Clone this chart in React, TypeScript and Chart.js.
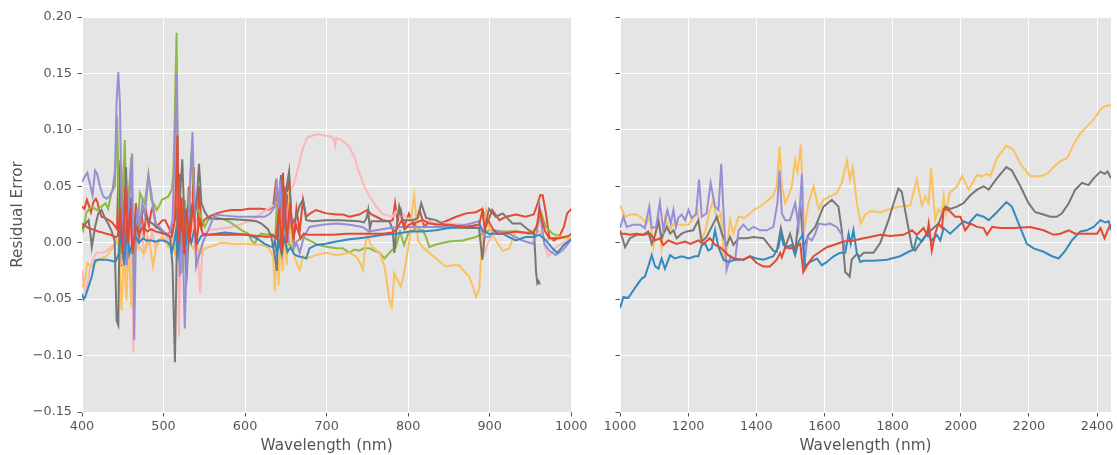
import React, { useEffect, useRef } from 'react';
import { Chart, registerables } from 'chart.js';

Chart.register(...registerables);

type Pt = [number, number];

// Tick positions
const visibleXTicks: number[] = [400, 500, 600, 700, 800, 900, 1000];
const nirXTicks: number[] = [1000, 1200, 1400, 1600, 1800, 2000, 2200, 2400];
const errorTicks: number[] = [-0.15, -0.1, -0.05, 0, 0.05, 0.1, 0.15, 0.2];

// ggplot colour cycle
const palette: string[] = ['#E24A33', '#348ABD', '#988ED5', '#777777', '#FBC15E', '#8EBA42', '#FFB5B8'];

// ---- Visible range (400–1000 nm) residuals: [wavelength, error] ----
const visRedLow: Pt[] = [
  [400, 0.017], [404, 0.015], [408, 0.013], [412, 0.012], [416, 0.011], [420, 0.01], [425, 0.009], [430, 0.008],
  [435, 0.007], [441, 0.005], [444, 0.006], [447, 0.03], [450, -0.01], [453, 0.05], [456, 0.0], [459, 0.03],
  [462, -0.01], [466, 0.015], [470, 0.008], [475, 0.014], [480, 0.01], [485, 0.012], [490, 0.01], [495, 0.009],
  [500, 0.008], [505, 0.007], [510, 0.005], [514, 0.02], [517, 0.095], [519, 0.0], [522, 0.04], [525, -0.01],
  [528, 0.03], [532, 0.0], [536, 0.035], [540, 0.0], [544, 0.02], [548, 0.008], [555, 0.007], [570, 0.007],
  [584, 0.007], [600, 0.007], [615, 0.006], [628, 0.005], [634, 0.007], [638, 0.004], [642, 0.03], [645, -0.01], [648, 0.05],
  [651, 0.0], [655, 0.035], [659, 0.005], [663, 0.015], [668, 0.004], [672, 0.008], [677, 0.007], [690, 0.007],
  [708, 0.007], [725, 0.008], [740, 0.008], [755, 0.008], [769, 0.008], [781, 0.009], [786, 0.012], [792, 0.02],
  [796, 0.012], [801, 0.016], [810, 0.018], [818, 0.02], [826, 0.017], [838, 0.016], [850, 0.016], [860, 0.015],
  [871, 0.014], [880, 0.015], [887, 0.016], [891, 0.028], [894, 0.012], [898, 0.02], [904, 0.012], [910, 0.008],
  [916, 0.008], [925, 0.009], [932, 0.01], [942, 0.009], [953, 0.008], [958, 0.015], [961, 0.03], [964, 0.02],
  [968, 0.01], [973, 0.004], [985, 0.004], [997, 0.006], [1000, 0.008],
];

const visBlue: Pt[] = [
  [400, -0.045], [402, -0.05], [404, -0.048], [408, -0.039], [412, -0.03], [416, -0.016], [419, -0.015], [424, -0.015],
  [430, -0.015], [436, -0.016], [441, -0.017], [445, -0.01], [448, 0.01], [452, -0.02], [455, 0.02],
  [458, -0.01], [462, 0.0], [466, 0.005], [470, 0.0], [475, 0.004], [479, 0.002], [485, 0.002], [490, 0.001],
  [494, 0.002], [500, 0.002], [504, 0.001], [508, -0.002], [510, -0.009], [513, 0.0], [515, 0.01], [518, -0.01], [522, 0.02],
  [526, -0.005], [530, 0.01], [534, 0.0], [538, 0.012], [542, 0.0], [546, 0.006], [550, 0.007], [555, 0.007],
  [565, 0.008], [575, 0.009], [590, 0.008], [604, 0.007], [614, 0.004], [624, -0.001], [630, -0.003], [634.5, -0.004],
  [636.5, 0.002], [639, -0.01], [642, 0.0], [645, -0.01], [648, 0.005], [652, -0.008], [656, -0.004], [660, -0.01],
  [665, -0.012], [671, -0.013], [675, -0.014], [679, -0.005], [687, -0.002], [699, -0.001], [712, 0.001], [728, 0.003],
  [740, 0.004], [752, 0.005], [769, 0.007], [785, 0.008], [802, 0.01], [818, 0.01], [834, 0.011], [850, 0.013],
  [871, 0.014], [887, 0.016], [891, 0.011], [899, 0.008], [916, 0.008], [924, 0.005], [932, 0.002], [944, 0.005],
  [953, 0.005], [961, 0.007], [969, 0.002], [977, -0.005], [983, -0.009], [991, -0.002], [1000, 0.003],
];

const visPurple: Pt[] = [
  [400, 0.054], [403, 0.058], [406.5, 0.062], [409.5, 0.053], [413, 0.042], [416, 0.064], [418.5, 0.061], [422, 0.05],
  [426, 0.041], [430, 0.039], [434, 0.041], [437.5, 0.047], [440.5, 0.064], [442.5, 0.126], [444.5, 0.151], [446.5, 0.124],
  [448.5, 0.032], [451, 0.0], [453, 0.05], [455, -0.02], [458, 0.04], [461.5, 0.079], [464, -0.086], [466, 0.0],
  [468, 0.03], [471, 0.015], [474, 0.035], [477, 0.025], [481.5, 0.058], [485, 0.045], [488, 0.025],
  [490, 0.017], [495, 0.014], [500, 0.01], [504, 0.006], [508, 0.01], [511, 0.02], [514, 0.09], [516, 0.15],
  [518, 0.05], [520, -0.03], [523, 0.02], [526, -0.076], [529, 0.0], [532, 0.04], [535.5, 0.098], [538, 0.03],
  [540, -0.021], [544, -0.01], [548, 0.0], [553, 0.008], [557, 0.015], [563, 0.025], [575, 0.024], [590, 0.023],
  [604, 0.023], [615, 0.023], [624, 0.023], [631, 0.026], [636.5, 0.032], [638.5, 0.057], [641, 0.03], [643, 0.055], [646, 0.01],
  [649, 0.04], [652, 0.0], [656, 0.03], [660, -0.005], [663, 0.0], [667, -0.009], [672, 0.005], [679, 0.014],
  [687, 0.015], [695, 0.016], [712, 0.017], [728, 0.016], [744, 0.014], [752, 0.01], [761, 0.011], [777, 0.013],
  [789, 0.014], [800, 0.014], [812, 0.014], [826, 0.014], [850, 0.014], [871, 0.016], [887, 0.019], [891, 0.01],
  [895, 0.005], [899, 0.005], [907, 0.011], [924, 0.008], [940, 0.002], [953, -0.001], [958, 0.01], [961, 0.033],
  [964, 0.015], [967, -0.001], [973, -0.007], [981, -0.011], [989, -0.007], [995, -0.002], [1000, 0.003],
];

const visGray: Pt[] = [
  [400, 0.013], [403.5, 0.016], [408, 0.02], [410, 0.01], [412, -0.004], [414, 0.005], [416, 0.014], [420, 0.026],
  [424, 0.029], [428, 0.022], [432, 0.017], [436, 0.011], [440, 0.002], [442.5, -0.069], [444.5, -0.073], [447, 0.067],
  [450.5, -0.015], [454, 0.067], [457, 0.002], [460, 0.04], [463, 0.0], [466, 0.025], [470, 0.005], [474, 0.03],
  [479, 0.023], [484, 0.018], [488, 0.016], [491, 0.014], [495, 0.012], [500, 0.009], [504, 0.008], [508, 0.005],
  [511, -0.02], [514, -0.106], [517, 0.03], [520, 0.04], [523, 0.074], [526, 0.01], [528, -0.036], [531, 0.01],
  [534, 0.032], [538, 0.02], [541, 0.04], [543.5, 0.07], [546.5, 0.035], [550, 0.028], [555, 0.022], [565, 0.021],
  [580, 0.021], [604, 0.02], [614, 0.019], [620, 0.017], [628, 0.012], [632, 0.006], [634.5, -0.004], [636.5, -0.012], [639, -0.025],
  [641, 0.02], [644, 0.06], [647, 0.01], [650, 0.045], [654, 0.063], [657, 0.015], [660, 0.02], [663, 0.023],
  [667, 0.033], [671, 0.038], [675, 0.02], [683, 0.019], [699, 0.02], [716, 0.02], [740, 0.019], [746, 0.018],
  [749, 0.022], [751, 0.029], [753, 0.012], [755, 0.019], [761, 0.019], [777, 0.019], [781, 0.012], [783, -0.009],
  [786, 0.015], [789, 0.032], [793, 0.02], [797, 0.02], [806, 0.02], [812, 0.022], [816, 0.035], [822, 0.022],
  [834, 0.02], [850, 0.014], [871, 0.013], [887, 0.013], [891, -0.015], [895, 0.015], [899, 0.03], [907.5, 0.023],
  [916, 0.026], [928, 0.017], [938, 0.017], [948, 0.011], [954.5, 0.008], [957, -0.027], [958.5, -0.036], [960, -0.034],
  [961.5, -0.037],
];

const visYellow: Pt[] = [
  [400, -0.04], [403.5, -0.033], [406.5, -0.018], [409, -0.02], [412, -0.021], [416, -0.018], [422, -0.014], [430, -0.012],
  [438, -0.004], [442.5, 0.002], [445, 0.0], [448.5, -0.06], [451, -0.01], [454.5, -0.051], [457, 0.0], [460.5, -0.057],
  [463, 0.0], [466, 0.01], [469, -0.005], [471, -0.004], [475, -0.009], [478, -0.007], [481, 0.004], [484, -0.005],
  [487, -0.021], [491.5, -0.001], [495, 0.003], [499.5, 0.005], [505.5, -0.004], [509.5, 0.001], [513.5, -0.009], [517, 0.01],
  [520, -0.02], [524, 0.0], [528, -0.01], [532, 0.0], [536, -0.005], [540, 0.0], [545, -0.01], [549, -0.006],
  [555, -0.004], [563, -0.002], [571, 0.0], [585, -0.001], [604, -0.001], [620, -0.002], [628.5, -0.004], [634.5, -0.012], [636.5, -0.043], [639, 0.0],
  [641, -0.038], [644, 0.005], [646, -0.025], [649, 0.01], [651, -0.02], [654.5, 0.047], [657, 0.0], [660, -0.01],
  [664, -0.02], [667, -0.024], [671, -0.012], [675, -0.014], [687, -0.011], [699.5, -0.009], [712, -0.011], [728, -0.009],
  [736, -0.012], [741, -0.018], [744.5, -0.024], [748, 0.0], [750.5, 0.008], [753, 0.0], [756.5, -0.004], [765, -0.009],
  [771, -0.021], [774, -0.035], [777, -0.051], [780, -0.057], [783, -0.027], [787, -0.033], [791, -0.039], [795, -0.027],
  [801.5, 0.002], [805, 0.03], [807.5, 0.042], [810, 0.02], [812, 0.002], [818, -0.004], [826, -0.009], [836, -0.015],
  [846, -0.021], [854.5, -0.02], [862.5, -0.02], [867, -0.024], [875, -0.03], [880, -0.04], [883, -0.048], [887, -0.042],
  [889, -0.02], [891, 0.002], [895.5, 0.029], [899, 0.014], [907.5, 0.002], [916, -0.007], [924, -0.005], [932, 0.011],
  [940, 0.008], [952.5, 0.011], [961, 0.01], [969, 0.002], [981, 0.005], [1000, 0.004],
];

const visGreen: Pt[] = [
  [400, 0.015], [401.5, 0.011], [405.5, 0.027], [412, 0.032], [418, 0.029], [424, 0.032], [429, 0.035], [432, 0.03],
  [436, 0.044], [440.5, 0.05], [443, 0.112], [445.5, 0.026], [448, -0.01], [450, 0.04], [452.5, 0.091], [455, 0.0],
  [458, 0.05], [460.5, 0.076], [463, -0.021], [466, 0.02], [468, 0.01], [471, 0.044], [473, 0.041], [477, 0.035],
  [481.5, 0.061], [485, 0.038], [488, 0.035], [491.5, 0.029], [495, 0.033], [498, 0.038], [506, 0.041], [510, 0.047],
  [512, 0.06], [514, 0.118], [516, 0.186], [518, 0.038], [520, 0.01], [522, -0.027], [526, 0.038], [530, 0.008],
  [534, 0.079], [538, 0.038], [541, 0.03], [544.5, 0.026], [550.5, 0.014], [554.5, 0.02], [563, 0.023], [572, 0.021],
  [579.5, 0.019], [588, 0.015], [596, 0.011], [604, 0.008], [608, 0.002], [612, -0.001], [616, 0.006], [620, 0.008],
  [626, 0.007], [631, 0.008], [634, 0.005], [637, 0.005], [639, 0.035], [642, -0.005], [645, 0.02], [648, 0.0], [651, 0.03], [654, -0.002],
  [659, -0.002], [665, 0.002], [671, 0.005], [679, 0.002], [687, -0.001], [695, -0.003], [703.5, -0.004], [712, -0.005],
  [720, -0.005], [728, -0.009], [734, -0.006], [740, -0.007], [746, -0.005], [752.5, -0.005], [758, -0.007], [765, -0.009],
  [771, -0.014], [777, -0.009], [781, -0.006], [785, -0.004], [790, 0.01], [795, -0.002], [800, 0.008], [806, 0.011],
  [812, 0.012], [818, 0.011], [822, 0.005], [826, -0.004], [832, -0.002], [838, -0.001], [850, 0.001], [867, 0.002],
  [883, 0.005], [891, 0.008], [899, 0.011], [916, 0.01], [932, 0.01], [948, 0.008], [957, 0.011], [963, 0.027],
  [966, 0.02], [969, 0.014], [977, 0.008], [989, 0.005], [1000, 0.004],
];

const visPink: Pt[] = [
  [400, -0.024], [402, -0.035], [404.5, -0.045], [407, -0.035], [410, -0.022], [414, -0.014], [418, -0.009], [423, -0.009],
  [428.5, -0.008], [434, -0.005], [441, -0.001], [443, 0.005], [445, -0.01], [447.5, 0.03], [449.5, -0.02],
  [452, 0.062], [454.5, -0.03], [457, 0.03], [459.5, -0.02], [461, 0.02], [463, -0.097], [465.5, 0.01], [468, 0.02],
  [470, 0.0], [473, 0.015], [476, -0.01], [480, 0.005], [483, -0.002], [486, 0.01], [490, -0.005], [494, 0.0],
  [498, 0.005], [502, 0.0], [506, 0.005], [510, -0.005], [513, 0.02], [515, 0.15], [517, 0.06], [519, -0.083],
  [521, 0.0], [524, 0.04], [527, -0.02], [530, 0.01], [533, 0.05], [536, 0.0], [540, 0.02], [543, -0.02],
  [545, -0.045], [548, 0.0], [551, 0.008], [555, 0.011], [565, 0.012], [583.6, 0.014], [594, 0.016], [604, 0.019],
  [612, 0.022], [620, 0.026], [628.5, 0.03], [634.5, 0.033], [640, 0.036], [645, 0.04], [650, 0.043], [655, 0.045],
  [660, 0.052], [663, 0.061], [667, 0.072], [671, 0.084], [676, 0.093], [683, 0.095], [690, 0.096], [698, 0.095],
  [705, 0.094], [709, 0.092], [710.5, 0.086], [712, 0.093], [718, 0.091], [722, 0.089], [728, 0.085], [734, 0.076],
  [740, 0.062], [746, 0.05], [752, 0.042], [761, 0.032], [768, 0.026], [775, 0.024], [781, 0.023], [785, 0.028],
  [790, 0.022], [795, 0.025], [800, 0.02], [810, 0.02], [830, 0.018], [850, 0.017], [870, 0.016], [885, 0.014],
  [890, 0.01], [894, -0.009], [898, 0.0], [905, 0.008], [915, 0.009], [930, 0.01], [945, 0.009], [955, 0.012],
  [960, 0.02], [963, 0.015], [968, -0.005], [972, -0.012], [980, -0.005], [990, 0.0], [1000, 0.003],
];

const visRedHigh: Pt[] = [
  [400, 0.032], [403, 0.03], [406, 0.038], [408, 0.034], [411, 0.027], [414, 0.036], [417, 0.039], [419, 0.036],
  [421, 0.029], [424, 0.023], [428, 0.022], [433, 0.02], [437, 0.018], [441, 0.014], [443, 0.012], [445, 0.073], [447, 0.02],
  [448.5, -0.021], [450, 0.03], [451.5, 0.073], [453, 0.01], [454.5, -0.015], [456, 0.02], [458, 0.045], [460.5, 0.067],
  [462.5, -0.021], [464, 0.005], [466, 0.035], [469, 0.014], [471, 0.02], [473, 0.026], [476, 0.008], [479, 0.026],
  [482, 0.015], [485, 0.028], [487, 0.032], [491, 0.014], [495, 0.017], [499, 0.02], [502, 0.02], [506, 0.014],
  [510, 0.008], [513, 0.03], [515, 0.115], [517.5, -0.009], [520, 0.061], [522, -0.021], [525, 0.032], [528, -0.004],
  [531, 0.05], [534, 0.01], [537, 0.067], [540, -0.021], [543.5, 0.05], [546.5, 0.014], [550, 0.02], [555, 0.023],
  [565, 0.026], [575, 0.028], [584, 0.029], [595, 0.029], [605, 0.03], [612, 0.03], [620, 0.03],
  [628.5, 0.029], [634.5, 0.032], [638, 0.056], [641, 0.015], [644, 0.04], [646.5, 0.062], [649, 0.01], [652, 0.045],
  [654, 0.06], [657, 0.02], [660, 0.005], [663, 0.03], [667, 0.01], [671, 0.038], [675, 0.023], [680, 0.026],
  [687, 0.029], [695, 0.027], [700, 0.026], [712, 0.025], [720, 0.025], [728, 0.023], [740, 0.025], [750, 0.029],
  [755, 0.025], [761, 0.023], [769, 0.02], [777, 0.019], [781, 0.02], [784, 0.035], [787, 0.019], [791, 0.029],
  [795, 0.014], [801, 0.026], [808, 0.014], [814, 0.029], [820, 0.014], [826, 0.019], [834, 0.016], [846, 0.019],
  [859, 0.023], [871, 0.026], [883, 0.027], [891, 0.03], [897, 0.017], [903, 0.029], [912, 0.02], [920, 0.023],
  [932, 0.025], [944, 0.023], [954, 0.025], [959, 0.035], [962, 0.042], [965, 0.042], [969, 0.026], [973, 0.005],
  [979, 0.002], [985, 0.005], [991, 0.014], [995, 0.026], [1000, 0.03],
];

// ---- Near-infrared range (1000–2440 nm) residuals ----
const nirRed: Pt[] = [
  [1000, 0.008], [1015, 0.008], [1029, 0.007], [1049, 0.008], [1068, 0.007], [1088, 0.008], [1103, 0.002], [1117, 0.004],
  [1127, -0.002], [1142, 0.002], [1166, -0.001], [1191, 0.001], [1206, -0.001], [1230, 0.002], [1245, -0.001], [1264, 0.004],
  [1279, -0.002], [1294, -0.004], [1308, -0.008], [1318, -0.011], [1333, -0.014], [1362, -0.015], [1382, -0.012], [1401, -0.018],
  [1421, -0.021], [1440, -0.021], [1460, -0.015], [1470, -0.009], [1475, -0.013], [1485, -0.004], [1499, -0.005], [1514, -0.004],
  [1529, -0.001], [1538, -0.026], [1553, -0.018], [1568, -0.012], [1587, -0.008], [1607, -0.004], [1627, -0.002], [1656, 0.001],
  [1685, 0.002], [1715, 0.004], [1734, 0.005], [1764, 0.007], [1793, 0.006], [1832, 0.007], [1857, 0.011], [1871, 0.007],
  [1891, 0.013], [1901, 0.007], [1906, 0.017], [1915, -0.007], [1925, 0.008], [1935, 0.017], [1945, 0.013], [1950, 0.03],
  [1964, 0.029], [1984, 0.023], [1999, 0.023], [2013, 0.011], [2028, 0.017], [2048, 0.014], [2067, 0.013], [2077, 0.007],
  [2092, 0.014], [2116, 0.013], [2155, 0.013], [2204, 0.014], [2243, 0.011], [2273, 0.007], [2292, 0.008], [2317, 0.011],
  [2336, 0.008], [2370, 0.008], [2400, 0.008], [2410, 0.013], [2422, 0.004], [2434, 0.013], [2441, 0.016],
];

const nirBlue: Pt[] = [
  [1000, -0.058], [1010, -0.048], [1024, -0.049], [1044, -0.04], [1063, -0.032], [1073, -0.03], [1083, -0.021], [1093, -0.011],
  [1103, -0.021], [1113, -0.023], [1122, -0.014], [1132, -0.023], [1147, -0.011], [1161, -0.014], [1181, -0.012], [1201, -0.014],
  [1220, -0.012], [1230, -0.012], [1240, -0.002], [1250, -0.001], [1259, -0.007], [1269, -0.005], [1279, 0.011], [1289, -0.004],
  [1304, -0.015], [1318, -0.017], [1338, -0.015], [1362, -0.015], [1382, -0.012], [1401, -0.014], [1421, -0.015], [1450, -0.012],
  [1465, -0.004], [1472, 0.008], [1480, -0.002], [1489, -0.004], [1504, -0.002], [1514, -0.011], [1524, 0.001], [1536, 0.007],
  [1543, -0.021], [1558, -0.017], [1578, -0.014], [1592, -0.02], [1607, -0.017], [1627, -0.012], [1646, -0.009], [1661, -0.009],
  [1671, 0.008], [1677, -0.001], [1685, 0.011], [1695, -0.009], [1705, -0.017], [1715, -0.016], [1744, -0.016], [1783, -0.015],
  [1822, -0.012], [1847, -0.008], [1862, -0.006], [1871, 0.005], [1886, 0.001], [1901, 0.008], [1915, 0.002], [1930, 0.007],
  [1940, 0.002], [1950, 0.013], [1969, 0.008], [2008, 0.019], [2023, 0.017], [2047, 0.025], [2067, 0.023], [2082, 0.02],
  [2106, 0.027], [2134, 0.036], [2150, 0.032], [2170, 0.017], [2194, -0.001], [2214, -0.005], [2243, -0.008], [2268, -0.012],
  [2287, -0.014], [2307, -0.007], [2326, 0.002], [2351, 0.01], [2370, 0.011], [2390, 0.014], [2410, 0.02], [2424, 0.018],
  [2434, 0.019], [2441, 0.011],
];

const nirPurple: Pt[] = [
  [1000, 0.013], [1010, 0.023], [1020, 0.014], [1039, 0.016], [1059, 0.016], [1073, 0.013], [1086, 0.032], [1093, 0.013],
  [1106, 0.014], [1117, 0.036], [1127, 0.011], [1139, 0.029], [1149, 0.017], [1157, 0.029], [1164, 0.014], [1171, 0.022],
  [1181, 0.025], [1191, 0.02], [1201, 0.029], [1210, 0.022], [1223, 0.025], [1232, 0.056], [1240, 0.023], [1254, 0.026],
  [1266, 0.053], [1279, 0.032], [1289, 0.029], [1297, 0.07], [1303, 0.032], [1313, -0.024], [1325, -0.012], [1338, -0.015],
  [1348, 0.011], [1362, 0.016], [1377, 0.011], [1392, 0.014], [1411, 0.011], [1431, 0.011], [1450, 0.014], [1462, 0.035],
  [1468, 0.064], [1475, 0.026], [1485, 0.02], [1499, 0.02], [1514, 0.035], [1524, 0.014], [1534, 0.061], [1540, -0.023],
  [1550, 0.005], [1563, 0.002], [1573, 0.008], [1583, 0.017], [1602, 0.016], [1617, 0.017], [1636, 0.014], [1651, 0.007],
  [1662, -0.006],
];

const nirGray: Pt[] = [
  [1000, 0.011], [1015, -0.004], [1029, 0.004], [1049, 0.007], [1068, 0.007], [1083, 0.01], [1093, -0.001], [1103, 0.007],
  [1113, 0.019], [1122, 0.004], [1137, 0.014], [1147, 0.008], [1157, 0.011], [1166, 0.004], [1181, 0.008], [1196, 0.01],
  [1215, 0.011], [1230, 0.02], [1240, 0.001], [1254, 0.005], [1269, 0.014], [1284, 0.023], [1299, 0.008], [1313, -0.002],
  [1323, 0.005], [1333, -0.002], [1348, 0.004], [1372, 0.004], [1392, 0.005], [1421, 0.004], [1450, -0.007], [1460, -0.008],
  [1472, 0.013], [1485, -0.004], [1499, 0.008], [1514, -0.008], [1529, 0.035], [1538, -0.004], [1553, 0.007], [1573, 0.014],
  [1597, 0.032], [1622, 0.038], [1641, 0.032], [1651, 0.011], [1661, -0.026], [1674, -0.03], [1680, -0.015], [1695, -0.01],
  [1705, -0.012], [1715, -0.009], [1744, -0.009], [1764, 0.0], [1788, 0.02], [1803, 0.035], [1817, 0.048], [1827, 0.045],
  [1842, 0.02], [1857, -0.004], [1866, -0.007], [1886, 0.002], [1901, 0.008], [1920, 0.013], [1935, 0.017], [1945, 0.025],
  [1955, 0.032], [1969, 0.03], [1989, 0.032], [2008, 0.035], [2028, 0.042], [2048, 0.047], [2067, 0.05], [2082, 0.047],
  [2106, 0.057], [2134, 0.067], [2150, 0.064], [2175, 0.05], [2199, 0.035], [2219, 0.027], [2243, 0.025], [2263, 0.023],
  [2282, 0.023], [2297, 0.026], [2317, 0.035], [2336, 0.047], [2356, 0.053], [2375, 0.051], [2390, 0.057], [2410, 0.063],
  [2422, 0.061], [2431, 0.063], [2441, 0.057],
];

const nirYellow: Pt[] = [
  [1000, 0.033], [1015, 0.023], [1029, 0.025], [1049, 0.025], [1063, 0.022], [1078, 0.017], [1088, 0.023], [1098, -0.004],
  [1113, 0.023], [1122, -0.005], [1132, 0.022], [1147, 0.011], [1157, 0.017], [1166, 0.016], [1181, 0.016], [1201, 0.016],
  [1215, 0.022], [1227, 0.029], [1237, 0.001], [1250, 0.01], [1264, 0.029], [1274, 0.038], [1284, 0.02], [1296, 0.026],
  [1305, -0.015], [1315, -0.004], [1323, 0.02], [1333, 0.008], [1348, 0.023], [1367, 0.022], [1392, 0.029], [1416, 0.033],
  [1436, 0.038], [1450, 0.042], [1460, 0.05], [1468, 0.085], [1475, 0.05], [1485, 0.035], [1494, 0.041], [1504, 0.05],
  [1514, 0.073], [1521, 0.063], [1531, 0.087], [1540, 0.01], [1553, 0.035], [1568, 0.05], [1583, 0.03], [1597, 0.038],
  [1617, 0.041], [1636, 0.044], [1651, 0.053], [1666, 0.073], [1675, 0.056], [1683, 0.067], [1695, 0.035], [1707, 0.017],
  [1720, 0.025], [1734, 0.028], [1764, 0.027], [1793, 0.03], [1822, 0.032], [1852, 0.033], [1871, 0.056], [1886, 0.033],
  [1896, 0.041], [1906, 0.035], [1913, 0.066], [1925, 0.02], [1935, 0.03], [1945, 0.026], [1950, 0.041], [1957, 0.026],
  [1967, 0.044], [1989, 0.05], [2004, 0.059], [2023, 0.047], [2048, 0.06], [2062, 0.059], [2077, 0.061], [2087, 0.059],
  [2106, 0.075], [2134, 0.086], [2155, 0.082], [2175, 0.07], [2204, 0.059], [2233, 0.059], [2253, 0.061], [2273, 0.067],
  [2292, 0.072], [2312, 0.075], [2331, 0.087], [2351, 0.097], [2370, 0.103], [2390, 0.109], [2410, 0.118], [2424, 0.121],
  [2441, 0.122],
];

const visSeries: Pt[][] = [visRedLow, visBlue, visPurple, visGray, visYellow, visGreen, visPink, visRedHigh];
const visColors: string[] = [palette[0], palette[1], palette[2], palette[3], palette[4], palette[5], palette[6], palette[0]];
const nirSeries: Pt[][] = [nirRed, nirBlue, nirPurple, nirGray, nirYellow];
const nirColors: string[] = [palette[0], palette[1], palette[2], palette[3], palette[4]];

const FONT = "'DejaVu Sans', 'Liberation Sans', sans-serif";
const TEXT = '#555555';

const panelBackground = {
  id: 'panelBackground',
  beforeDraw(chart: any) {
    const { ctx, chartArea: a } = chart;
    ctx.save();
    ctx.fillStyle = '#E5E5E5';
    ctx.fillRect(a.left, a.top, a.right - a.left, a.bottom - a.top);
    ctx.restore();
  },
};

const fmtError = (v: number) => {
  const s = Math.abs(v).toFixed(2);
  return v < -1e-9 ? '\u2212' + s : s;
};

interface PanelOpts {
  series: Pt[][];
  colors: string[];
  xMin: number;
  xMax: number;
  xTicks: number[];
  yAxisWidth: number;
  padRight: number;
  showYLabels: boolean;
}

function buildConfig(o: PanelOpts): any {
  return {
    type: 'line',
    data: {
      datasets: o.series.map((s, i) => ({
        data: s.map(([x, y]) => ({ x, y })),
        borderColor: o.colors[i],
        backgroundColor: o.colors[i],
        borderWidth: 2,
        pointRadius: 0,
        fill: false,
        tension: 0,
      })),
    },
    options: {
      responsive: false,
      maintainAspectRatio: false,
      animation: false,
      events: [],
      layout: { padding: { top: 17, right: o.padRight, left: 0, bottom: 0 } },
      plugins: { legend: { display: false }, tooltip: { enabled: false } },
      scales: {
        x: {
          type: 'linear',
          min: o.xMin,
          max: o.xMax,
          afterBuildTicks: (s: any) => {
            s.ticks = o.xTicks.map((v) => ({ value: v }));
          },
          afterFit: (s: any) => {
            s.height = 43;
          },
          border: { display: false },
          grid: { color: '#FFFFFF', lineWidth: 1, drawTicks: true, tickLength: 4.5, tickColor: TEXT, tickWidth: 1 },
          ticks: {
            color: TEXT,
            font: { family: FONT, size: 12.8 },
            padding: 2.5,
            maxRotation: 0,
            autoSkip: false,
            callback: (v: number) => String(v),
          },
          title: {
            display: true,
            text: 'Wavelength (nm)',
            color: TEXT,
            font: { family: FONT, size: 15.3 },
            padding: { top: 0, bottom: 0 },
          },
        },
        y: {
          type: 'linear',
          min: -0.15,
          max: 0.2,
          afterBuildTicks: (s: any) => {
            s.ticks = errorTicks.map((v) => ({ value: v }));
          },
          afterFit: (s: any) => {
            s.width = o.yAxisWidth;
          },
          border: { display: false },
          grid: { color: '#FFFFFF', lineWidth: 1, drawTicks: true, tickLength: 4.5, tickColor: TEXT, tickWidth: 1 },
          ticks: {
            color: TEXT,
            font: { family: FONT, size: 12.8 },
            padding: 5.5,
            autoSkip: false,
            callback: (v: number) => (o.showYLabels ? fmtError(v) : ''),
          },
          title: {
            display: o.showYLabels,
            text: 'Residual Error',
            color: TEXT,
            font: { family: FONT, size: 15.3 },
            padding: { top: 9, bottom: 0 },
          },
        },
      },
    },
    plugins: [panelBackground],
  };
}

export default function App() {
  const leftRef = useRef<HTMLCanvasElement | null>(null);
  const rightRef = useRef<HTMLCanvasElement | null>(null);

  useEffect(() => {
    if (!leftRef.current || !rightRef.current) return;
    const left = new Chart(
      leftRef.current,
      buildConfig({
        series: visSeries,
        colors: visColors,
        xMin: 400,
        xMax: 1000,
        xTicks: visibleXTicks,
        yAxisWidth: 82,
        padRight: 18,
        showYLabels: true,
      })
    );
    const right = new Chart(
      rightRef.current,
      buildConfig({
        series: nirSeries,
        colors: nirColors,
        xMin: 1000,
        xMax: 2441,
        xTicks: nirXTicks,
        yAxisWidth: 30,
        padRight: 6,
        showYLabels: false,
      })
    );
    return () => {
      left.destroy();
      right.destroy();
    };
  }, []);

  return (
    <div style={{ position: 'fixed', left: 0, top: 0, width: 1117, height: 455, background: '#FFFFFF' }}>
      <canvas
        ref={leftRef}
        width={590}
        height={455}
        style={{ position: 'absolute', left: 0, top: 0, width: 590, height: 455 }}
      />
      <canvas
        ref={rightRef}
        width={527}
        height={455}
        style={{ position: 'absolute', left: 590, top: 0, width: 527, height: 455 }}
      />
    </div>
  );
}
